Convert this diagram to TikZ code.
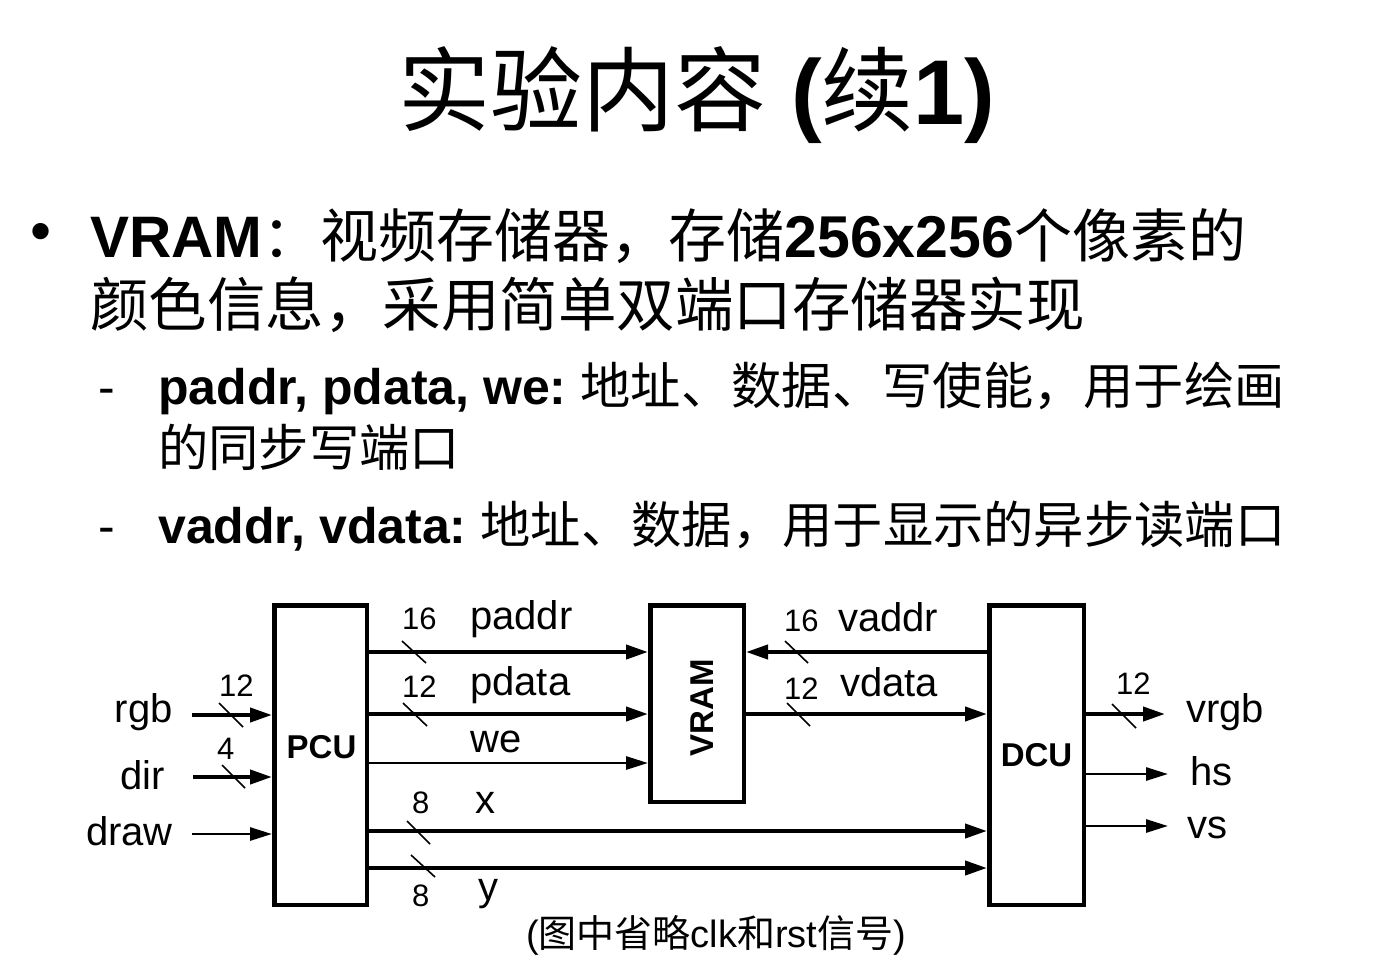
\documentclass[tikz,border=0pt]{standalone}
\usepackage{fontspec}
\setmainfont{Liberation Sans}
\newfontfamily\cjk{Noto Sans CJK SC}
\usetikzlibrary{arrows.meta}
\newcommand\fs[1]{\fontsize{#1}{#1}\selectfont}
\newcommand\zh[1]{{\cjk #1}}
\begin{document}
\begin{tikzpicture}[x=1pt,y=-1pt,
  box/.style={draw, line width=4.5pt, inner sep=0pt},
  bus/.style={line width=4pt, -{Triangle[length=22pt,width=14pt]}},
  wire/.style={line width=2.8pt, -{Triangle[length=22pt,width=13pt]}},
  slash/.style={line width=1.6pt},
  txt/.style={inner sep=0pt, anchor=base west},
  lbl/.style={inner sep=0pt, anchor=base west, font=\fs{40}},
  num/.style={inner sep=0pt, anchor=base west, font=\fs{31}},
  unit/.style={inner sep=0pt, anchor=base, font=\fs{33}\bfseries},
]
\useasboundingbox (0,0) rectangle (1396,972);

% ---------- title ----------
\node[txt] (title) at (398,124) {\zh{\fs{92}实验内容}\hspace{25pt}{\fs{92}\bfseries (}\zh{\fs{92}续}{\fs{92}\bfseries 1)}};

% ---------- body text ----------
\node[anchor=center, inner sep=0pt] (bullet) at (41,237) {\fs{60}\textbullet};
\node[txt] (l1) at (90,257) {{\fs{58.5}\bfseries VRAM}\zh{\fs{58}：视频存储器，存储}{\fs{59}\bfseries 256x256}\zh{\fs{58}个像素的}};
\node[txt] (l2) at (90,326) {\zh{\fs{58.5}颜色信息，采用简单双端口存储器实现}};

\node[txt] (dash1) at (98,404) {\fs{50}-};
\node[txt] (s1) at (158,404) {{\fs{50}\bfseries paddr, pdata, we:}\hspace{14pt}\zh{\fs{50.3}地址、数据、写使能，用于绘画}};
\node[txt] (s2) at (158,466) {\zh{\fs{50.3}的同步写端口}};
\node[txt] (dash2) at (98,543) {\fs{50}-};
\node[txt] (s3) at (158,543) {{\fs{50}\bfseries vaddr, vdata:}\hspace{14pt}\zh{\fs{50.3}地址、数据，用于显示的异步读端口}};

% ---------- blocks ----------
\node[box, minimum width=92.5pt, minimum height=299.5pt] (pcu) at (320.5,755) {};
\node[box, minimum width=93.5pt, minimum height=196.5pt] (vram) at (697,703.5) {};
\node[box, minimum width=94.5pt, minimum height=299.5pt] (dcu) at (1036.5,755) {};
\node[unit] (pculbl) at (321.5,758) {PCU};
\node[unit, rotate=90] (vramlbl) at (713,707.5) {VRAM};
\node[unit] (dculbl) at (1036.5,766) {DCU};

% ---------- signal levels ----------
\coordinate (ypaddr) at (0,652);
\coordinate (ypdata) at (0,714);
\coordinate (ywe) at (0,763);
\coordinate (yx) at (0,831);
\coordinate (yy) at (0,868);
\coordinate (rgbin) at (192,715);
\coordinate (dirin) at (193,777);
\coordinate (drawin) at (192,834);
\coordinate (vrgbout) at (1165,714);
\coordinate (hsout) at (1168,774);
\coordinate (vsout) at (1168,826);

% ---------- connectors ----------
\draw[bus] (rgbin) -- (pcu.west |- rgbin);
\draw[bus] (dirin) -- (pcu.west |- dirin);
\draw[wire] (drawin) -- (pcu.west |- drawin);
\draw[bus] (pcu.east |- ypaddr) -- (vram.west |- ypaddr);
\draw[bus] (pcu.east |- ypdata) -- (vram.west |- ypdata);
\draw[wire] (pcu.east |- ywe) -- (vram.west |- ywe);
\draw[bus] (pcu.east |- yx) -- (dcu.west |- yx);
\draw[bus] (pcu.east |- yy) -- (dcu.west |- yy);
\draw[bus] (dcu.west |- ypaddr) -- (vram.east |- ypaddr);
\draw[bus] (vram.east |- ypdata) -- (dcu.west |- ypdata);
\draw[bus] (dcu.east |- vrgbout) -- (vrgbout);
\draw[wire] (dcu.east |- hsout) -- (hsout);
\draw[wire] (dcu.east |- vsout) -- (vsout);

% ---------- bus width slashes ----------
\draw[slash] (402,641) -- (426,663);
\draw[slash] (403,703) -- (427,726);
\draw[slash] (407,821) -- (430,844);
\draw[slash] (411,855) -- (435,877);
\draw[slash] (219,703) -- (243,727);
\draw[slash] (222,765) -- (245,788);
\draw[slash] (785,641) -- (808,663);
\draw[slash] (787,703) -- (810,726);
\draw[slash] (1112,704) -- (1136,728);

% ---------- labels ----------
\node[num] (n1) at (402,629) {16};
\node[lbl] (lpaddr) at (470,629) {paddr};
\node[num] (n2) at (402,697) {12};
\node[lbl] (lpdata) at (470,695) {pdata};
\node[lbl] (lwe) at (470,752) {we};
\node[num] (n3) at (412,813) {8};
\node[lbl] (lx) at (475,813) {x};
\node[num] (n4) at (412,906) {8};
\node[lbl] (ly) at (478,900) {y};
\node[num] (n5) at (219,696) {12};
\node[lbl, anchor=base east] (lrgb) at (173,722) {rgb};
\node[num] (n6) at (217,759) {4};
\node[lbl, anchor=base east] (ldir) at (165,789) {dir};
\node[lbl, anchor=base east] (ldraw) at (173,845) {draw};
\node[num] (n7) at (784,631) {16};
\node[lbl] (lvaddr) at (838,631) {vaddr};
\node[num] (n8) at (784,699) {12};
\node[lbl] (lvdata) at (840,696) {vdata};
\node[num] (n9) at (1116,694) {12};
\node[lbl] (lvrgb) at (1186,722) {vrgb};
\node[lbl] (lhs) at (1190,785) {hs};
\node[lbl] (lvs) at (1187,838) {vs};

% ---------- caption ----------
\node[anchor=base, inner sep=0pt] (cap) at (716,947) {\fs{38}(\zh{图中省略}clk\zh{和}rst\zh{信号})};
\end{tikzpicture}
\end{document}
